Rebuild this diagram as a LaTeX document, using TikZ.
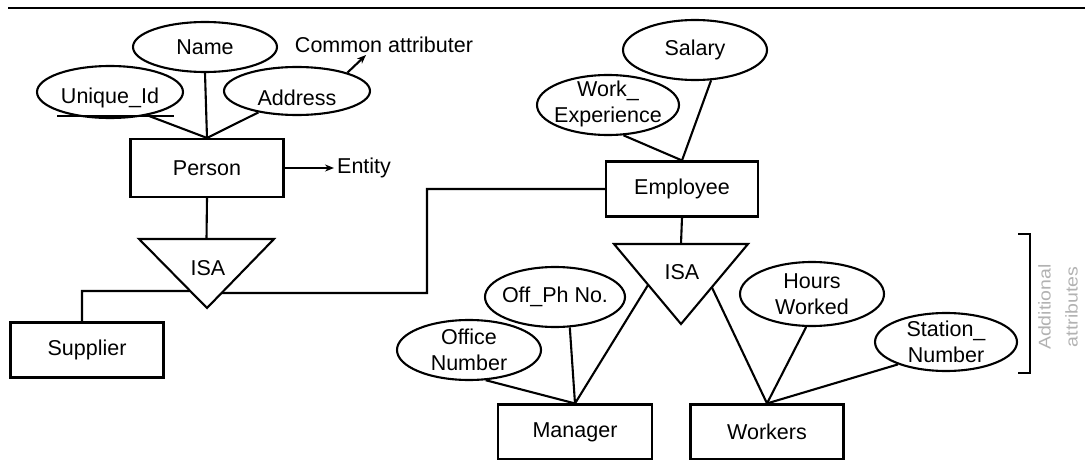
\documentclass[tikz,border=0pt]{standalone}
\usepackage{fontspec}
\setmainfont{Liberation Sans}
\usetikzlibrary{arrows.meta,calc,shapes.geometric}
\newcommand{\erfont}{\fontsize{21.5}{26}\selectfont}
\tikzset{
  conn/.style={line width=2.1pt},
  entbox/.style={draw, line width=2.1pt, inner sep=0pt, minimum height=55pt, font=\erfont},
  attr/.style={draw, ellipse, line width=2.1pt, inner sep=0pt},
  lbl/.style={font=\erfont, align=center, inner sep=0pt},
  tip/.style={conn, -{Stealth[length=9pt,width=7pt]}},
  isa/.style={line width=2.1pt, line join=miter},
  note/.style={font=\fontsize{17}{27}\selectfont, text=black!30, align=center, inner sep=0pt}
}
\begin{document}
\begin{tikzpicture}[x=1pt,y=-1pt]
\useasboundingbox (0,0) rectangle (1085,460);

% rule across the top
\coordinate (ruleL) at (8,8);
\coordinate (ruleR) at (1085,8);
\draw[line width=2.8pt] (ruleL) -- (ruleR);

% ---------------- Person side ----------------
\node[entbox, minimum width=153pt, minimum height=58pt] (person) at (207,168) {Person};

\node[attr, minimum width=144pt, minimum height=50pt] (name) at (205,47) {};
\node[lbl] (nameT) at (name) {Name};

\node[attr, minimum width=146pt, minimum height=52pt] (uid) at (110,92) {};
\node[lbl] (uidT) at (110,98) {Unique\_Id};
\coordinate (ulA) at (57,116);
\coordinate (ulB) at (174,116);
\draw[conn] (ulA) -- (ulB);

\node[attr, minimum width=146pt, minimum height=48pt] (addr) at (297,91) {};
\node[lbl] (addrT) at (297,98) {Address};

\node[lbl] (common) at (384,45) {Common attributer};
\coordinate (commonTip) at (366,55);
\draw[tip] (addr.20) -- (commonTip);

\node[lbl, anchor=west] (entity) at (337,168) {Entity};
\draw[tip] (person.east) -- ($(entity.west)+(-3,0)$);

\draw[conn] (name.south) -- (person.north);
\draw[conn] (uid.-32) -- (person.north);
\draw[conn] (addr.-151) -- (person.north);

% ISA under Person
\coordinate (t1l) at (139,239);
\coordinate (t1r) at (274,239);
\coordinate (t1b) at (207,308);
\draw[isa] (t1l) -- (t1r) -- (t1b) -- cycle;
\node[lbl] (isa1) at (208,268) {ISA};
\coordinate (t1top) at ($(t1l)!0.5!(t1r)$);
\coordinate (t1lp) at ($(t1l)!0.754!(t1b)$);
\coordinate (t1rp) at ($(t1r)!0.783!(t1b)$);
\draw[conn] (person.south) -- (t1top);

\node[entbox, minimum width=153pt] (supplier) at (87,350) {Supplier};
\coordinate (supBend) at (82,291);
\draw[conn] (t1lp) -- (supBend) -- (supBend |- supplier.north);

% ---------------- Employee side ----------------
\node[entbox, minimum width=152pt] (emp) at (682,189) {Employee};
\coordinate (empBend) at (427,293);
\draw[conn] (t1rp) -- (empBend) |- (emp.west);

\node[attr, minimum width=144pt, minimum height=60pt] (salary) at (695,50) {};
\node[lbl] (salaryT) at (salary) {Salary};

\node[attr, minimum width=142pt, minimum height=60pt] (we) at (608,105) {};
\node[lbl] (weT) at (608,104) {Work\_\\Experience};

\draw[conn] (we.-63) -- (emp.north);
\draw[conn] (salary.-62) -- (emp.north);

% ISA under Employee
\coordinate (t2l) at (614,244);
\coordinate (t2r) at (748,244);
\coordinate (t2b) at (681,324);
\draw[isa] (t2l) -- (t2r) -- (t2b) -- cycle;
\node[lbl] (isa2) at (682,272) {ISA};
\coordinate (t2top) at ($(t2l)!0.5!(t2r)$);
\coordinate (t2lp) at ($(t2l)!0.51!(t2b)$);
\coordinate (t2rp) at ($(t2r)!0.54!(t2b)$);
\draw[conn] (emp.south) -- (t2top);

\node[entbox, minimum width=154pt] (manager) at (575,432) {Manager};
\node[entbox, minimum width=153pt] (workers) at (767,432) {Workers};

\draw[conn] (t2lp) -- (manager.north);
\draw[conn] (t2rp) -- (workers.north);

\node[attr, minimum width=140pt, minimum height=60pt] (offph) at (555,297) {};
\node[lbl] (offphT) at (offph) {Off\_Ph No.};

\node[attr, minimum width=144pt, minimum height=60pt] (offnum) at (469,350) {};
\node[lbl] (offnumT) at (offnum) {Office\\Number};

\draw[conn] (offph.-64) -- (manager.north);
\draw[conn] (offnum.-61) -- (manager.north);

\node[attr, minimum width=144pt, minimum height=64pt] (hours) at (812,294) {};
\node[lbl] (hoursT) at (hours) {Hours\\Worked};

\node[attr, minimum width=142pt, minimum height=58pt] (station) at (946,342) {};
\node[lbl] (stationT) at (station) {Station\_\\Number};

\draw[conn] (hours.-100) -- (workers.north);
\draw[conn] (station.-155) -- (workers.north);

% bracket grouping the extra attributes
\coordinate (brA) at (1018,234);
\coordinate (brB) at (1030,234);
\coordinate (brC) at (1030,373);
\coordinate (brD) at (1018,373);
\draw[conn, line join=miter] (brA) -- (brB) -- (brC) -- (brD);
\node[note, rotate=90] (extra) at (1058,307) {\scalebox{1.15}[1]{Additional}\\\scalebox{1.15}[1]{attributes}};

\end{tikzpicture}
\end{document}
